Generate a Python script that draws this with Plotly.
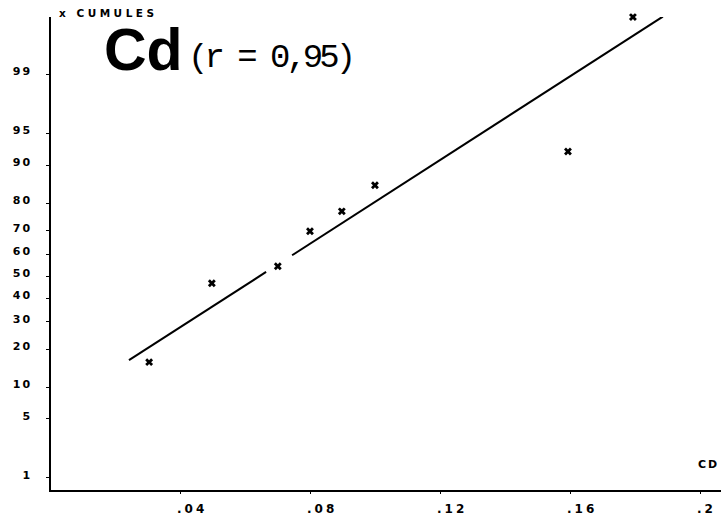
import plotly.graph_objects as go
from statistics import NormalDist

# ---- data ----
cd_values = [0.0302, 0.0495, 0.0698, 0.0797, 0.0895, 0.0997, 0.1591, 0.1791]
cum_percent = [16.1, 46.8, 54.6, 69.8, 77.3, 85.3, 92.5, 99.86]

fit_intercept = -1.547   # probit units
fit_slope = 24.12        # probit units per Cd unit
fit_x = [0.024, 0.0662, None, 0.0742, 0.1883]

ytick_percent = [1, 5, 10, 20, 30, 40, 50, 60, 70, 80, 90, 95, 99]
xtick_vals = [0.04, 0.08, 0.12, 0.16, 0.2]
xtick_text = [".04", ".08", ".12", ".16", ".2"]

nd = NormalDist()
def probit(p):
    return nd.inv_cdf(p / 100.0)

pts_z = [probit(p) for p in cum_percent]
fit_z = [None if x is None else fit_intercept + fit_slope * x for x in fit_x]
ytick_z = [probit(p) for p in ytick_percent]

Y_BOTTOM = -2.465
Y_TOP = 2.99

def spaced(t, px):
    return '<span style="letter-spacing:%spx">%s</span>' % (px, t)

fig = go.Figure()
fig.add_trace(go.Scatter(x=fit_x, y=fit_z, mode="lines",
                         line=dict(color="black", width=2),
                         connectgaps=False, hoverinfo="skip"))
fig.add_trace(go.Scatter(x=cd_values, y=pts_z, mode="markers",
                         marker=dict(symbol="x", size=7, color="black",
                                     line=dict(width=0)),
                         cliponaxis=False))

annotations = [
    dict(text=spaced("x CUMULES", 3.5), xref="paper", yref="paper", x=0, y=1,
         xshift=6, yshift=12, xanchor="left", yanchor="top",
         showarrow=False,
         font=dict(family="DejaVu Sans", size=10.5, color="black", weight="bold")),
    dict(text="Cd", xref="paper", yref="paper", x=0, y=1,
         xshift=51, yshift=-8, xanchor="left", yanchor="top",
         height=46, valign="middle",
         showarrow=False,
         font=dict(family="Liberation Sans", size=59, color="black", weight="bold")),
    dict(text=spaced("(r = 0,95)", -4), xref="paper", yref="paper", x=0, y=1,
         xshift=135, yshift=-20, xanchor="left", yanchor="top",
         showarrow=False,
         font=dict(family="Liberation Mono", size=34, color="black")),
    dict(text=spaced("CD", 2), xref="paper", yref="y", x=1, y=Y_BOTTOM,
         xshift=0, yshift=26, xanchor="right", yanchor="middle",
         showarrow=False,
         font=dict(family="DejaVu Sans", size=11, color="black", weight="bold")),
]
for v, t in zip(xtick_vals, xtick_text):
    annotations.append(dict(text=spaced(t, 3), xref="x", yref="paper", x=v, y=0,
                            xshift=-6, yshift=-10, xanchor="left", yanchor="top",
                            showarrow=False,
                            font=dict(family="DejaVu Sans", size=12,
                                      color="black", weight="bold")))

fig.update_layout(
    width=721, height=517,
    margin=dict(l=51, r=0, t=17, b=27),
    plot_bgcolor="white", paper_bgcolor="white",
    showlegend=False,
    xaxis=dict(range=[0, 0.2062], tickvals=xtick_vals, showticklabels=False,
               showgrid=False, zeroline=False, showline=True,
               linecolor="black", linewidth=1.5,
               ticks="outside", ticklen=2, tickcolor="black"),
    yaxis=dict(range=[Y_BOTTOM, Y_TOP], tickvals=ytick_z,
               ticktext=[spaced(str(p), 2) for p in ytick_percent],
               showgrid=False, zeroline=False, showline=True,
               linecolor="black", linewidth=1.5,
               ticks="outside", ticklen=3, tickcolor="black",
               ticklabelstandoff=12, ticklabelshift=-3,
               tickfont=dict(family="DejaVu Sans", size=11,
                             color="black", weight="bold")),
    annotations=annotations,
)

fig.write_html("out.html")
